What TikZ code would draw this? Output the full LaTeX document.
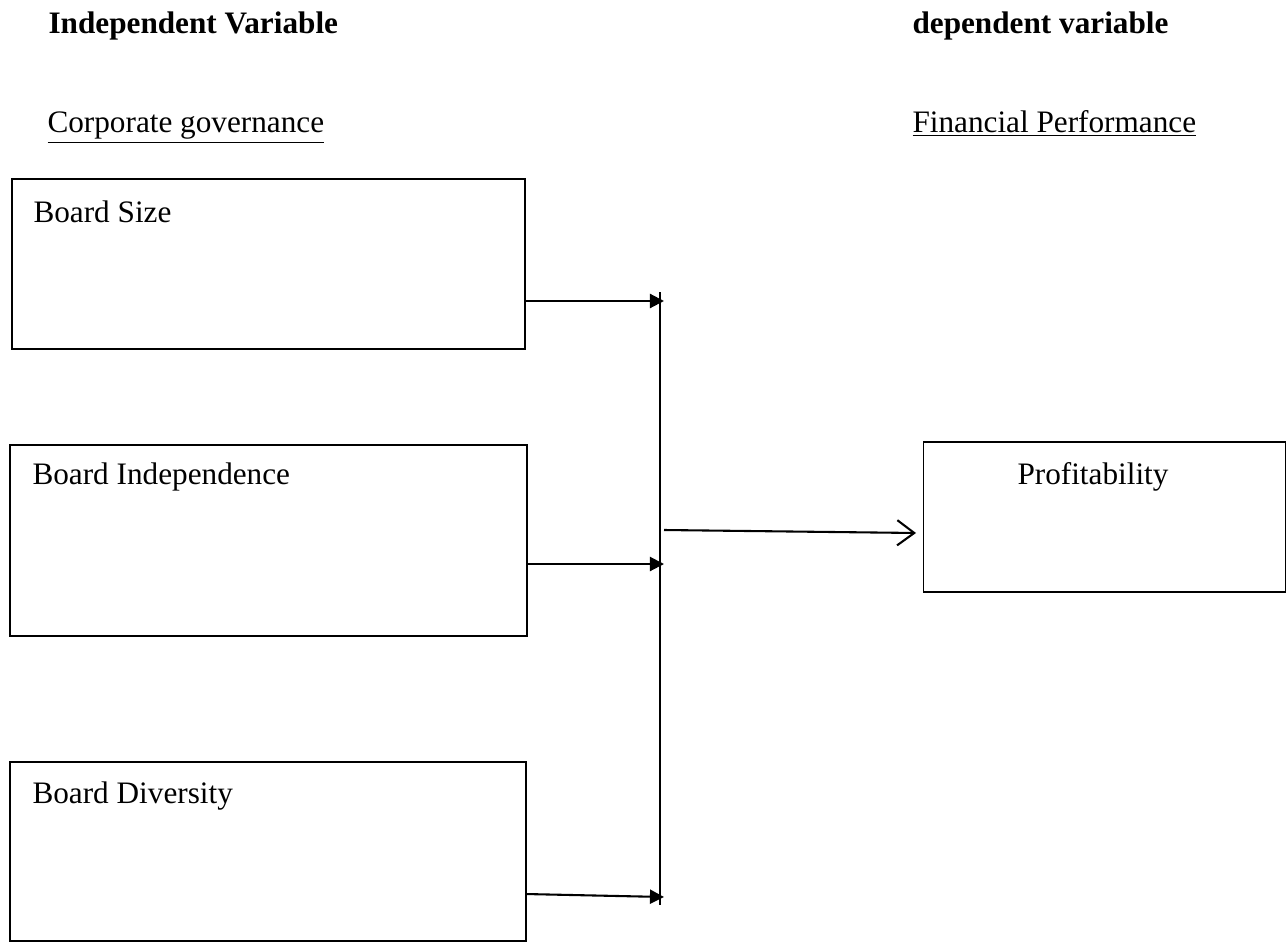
\documentclass[tikz,border=0pt]{standalone}
\usepackage{fontspec}
\setmainfont{Liberation Serif}
\usepackage{tikz}
\usetikzlibrary{arrows.meta,positioning}
\tikzset{blk/.style={draw,line width=0.6pt,inner sep=0pt},
         ar/.style={line width=0.8pt,-{Triangle[length=1.9mm,width=1.9mm]}},
         arr/.style={line width=0.8pt,-{Straight Barb[length=2.3mm,width=3.4mm]}},
         lbl/.style={anchor=base west,inner sep=0pt,font=\fontsize{12}{14}\selectfont},
         hd/.style={lbl,font=\fontsize{12}{14}\selectfont\bfseries}}
\begin{document}
\begin{tikzpicture}[x=0.0135cm,y=-0.0135cm]
\useasboundingbox (0,0) rectangle (1287,942);
% headings
\node[hd] (iv) at (48,33) {Independent Variable};
\node[hd] (dv) at (912,33) {dependent variable};
\node[lbl] (cg) at (47,132) {\underline{Corporate governance}};
\node[lbl] (fp) at (912,132) {\underline{Financial Performance}};
% boxes
\node[blk,minimum width=6.93cm,minimum height=2.30cm] (sz) at (268.5,264) {};
\node[blk,minimum width=6.98cm,minimum height=2.58cm] (ind) at (268.5,540.5) {};
\node[blk,minimum width=6.97cm,minimum height=2.42cm] (div) at (268,851.5) {};
\node[blk,minimum width=4.89cm,minimum height=2.03cm] (pr) at (1104.5,517) {};
\node[lbl] (szt) at (33,222) {Board Size};
\node[lbl] (indt) at (32,484) {Board Independence};
\node[lbl] (divt) at (32,803) {Board Diversity};
\node[lbl] (prt) at (1017,484) {Profitability};
% bus
\coordinate (bt) at (660,292);
\coordinate (bb) at (660,905);
\coordinate (b1) at (664,301);
\coordinate (b2) at (664,564);
\coordinate (b3) at (664,897);
\coordinate (bo) at (664,530);
\draw[line width=0.7pt] (bt) -- (bb);
\draw[ar] (sz.east |- b1) -- (b1);
\draw[ar] (ind.east |- b2) -- (b2);
\draw[ar] ([yshift=0.4mm]div.east |- b3) -- (b3);
\draw[arr] (bo) -- ([xshift=-0.9mm,yshift=-2.16mm]pr.west);
\end{tikzpicture}
\end{document}
